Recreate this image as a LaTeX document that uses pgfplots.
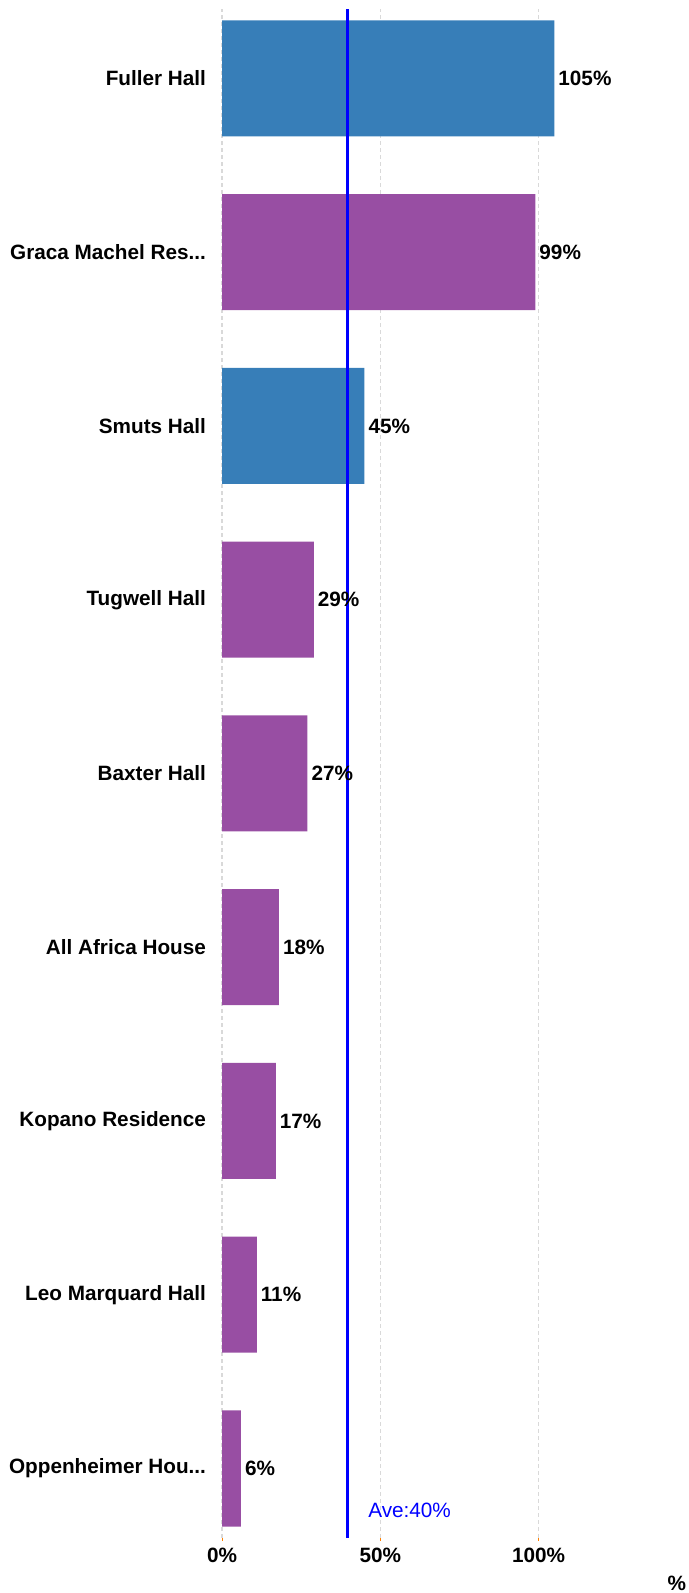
\documentclass[border=0pt]{standalone}
\usepackage{pgfplots}
\pgfplotsset{compat=1.18}
\usepackage{fontspec}
\setmainfont{Liberation Sans}
\definecolor{barblue}{HTML}{377EB8}
\definecolor{barpurple}{HTML}{984EA3}
\definecolor{avgblue}{RGB}{0,0,255}
\newcommand\tdots{...}
\begin{document}
\begin{tikzpicture}
\begin{axis}[
  scale only axis, width=233bp, height=764.5bp,
  xmin=0, xmax=147.2, ymin=-0.4, ymax=8.4,
  axis line style={draw=none},
  clip=false,
  /pgf/number format/assume math mode=true,
  xtick={0,50,100}, xticklabels={0\%,50\%,100\%},
  ytick={0,1,2,3,4,5,6,7,8},
  yticklabels={Oppenheimer Hou\tdots,Leo Marquard Hall,Kopano Residence,All Africa House,Baxter Hall,Tugwell Hall,Smuts Hall,Graca Machel Res\tdots,Fuller Hall},
  xtick pos=lower, ytick pos=left,
  xtick style={draw=orange, line width=0.5bp},
  ytick style={draw=none},
  major tick length=1.5bp,
  tick align=outside,
  xmajorgrids, grid style={dash pattern=on 2bp off 1.5bp, color=black!15, line width=0.6bp},
  tick label style={font=\fontsize{10.4}{12}\selectfont\bfseries, text=black},
  yticklabel style={xshift=-3bp},
]
\addplot[xbar, bar width=58bp, bar shift=0pt, fill=barblue, draw=none,
  point meta=x,
  nodes near coords={\pgfmathprintnumber{\pgfplotspointmeta}\%},
  nodes near coords style={font=\fontsize{10.4}{12}\selectfont\bfseries, anchor=west, text=black, xshift=-1.5bp}]
  coordinates {(105,8) (45,6)};
\addplot[xbar, bar width=58bp, bar shift=0pt, fill=barpurple, draw=none,
  point meta=x,
  nodes near coords={\pgfmathprintnumber{\pgfplotspointmeta}\%},
  nodes near coords style={font=\fontsize{10.4}{12}\selectfont\bfseries, anchor=west, text=black, xshift=-1.5bp}]
  coordinates {(99,7) (29,5) (27,4) (18,3) (17,2) (11,1) (6,0)};
\addplot[avgblue, line width=1.5bp, sharp plot, mark=none] coordinates {(39.7,-0.4) (39.7,8.4)};
\node[anchor=west, text=avgblue, font=\fontsize{10.4}{12}\selectfont, inner sep=0pt] at (axis cs:46.1,-0.24) {Ave:40\%};
\node[anchor=center, font=\fontsize{10.4}{12}\selectfont\bfseries, inner sep=0pt] at ([yshift=-22.5bp]axis description cs:0.976,0) {\%};
\end{axis}
\pgfresetboundingbox
\path ([shift={(-111bp,-27.5bp)}]current axis.south west) rectangle ([shift={(0bp,4.5bp)}]current axis.north east);
\end{tikzpicture}
\end{document}
